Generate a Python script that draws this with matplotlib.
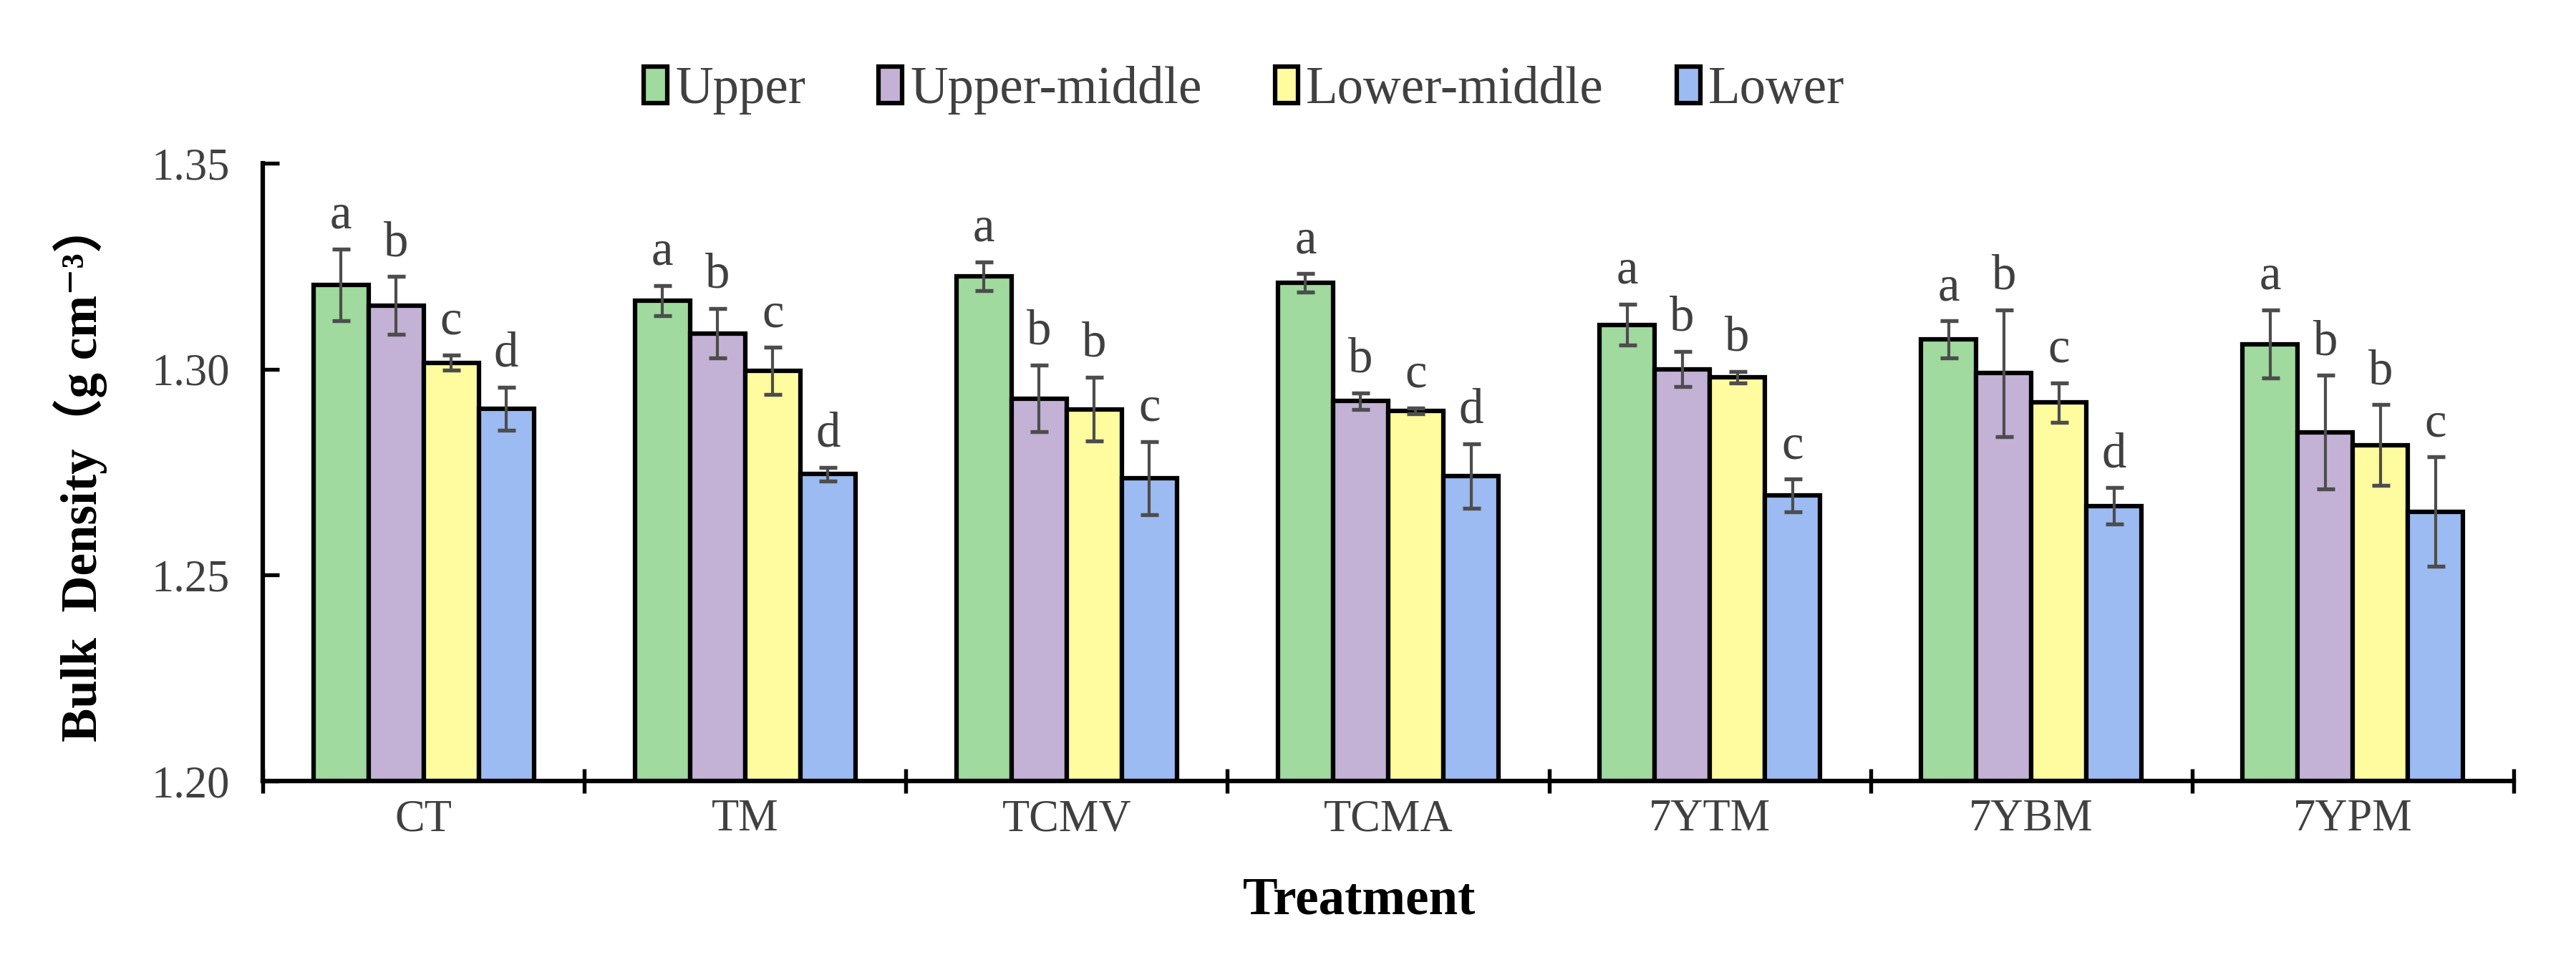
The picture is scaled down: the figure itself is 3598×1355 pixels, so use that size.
import matplotlib
matplotlib.use("Agg")
import matplotlib.pyplot as plt
import numpy as np

treatments = ["CT", "TM", "TCMV", "TCMA", "7YTM", "7YBM", "7YPM"]
layers = ["Upper", "Upper-middle", "Lower-middle", "Lower"]
colors = ["#A0DA9E", "#C3B2D6", "#FFFB9F", "#9CBBF2"]

upper = [1.3205, 1.3166, 1.3226, 1.3210, 1.3108, 1.3072, 1.3061]
upper_err = [0.0087, 0.0037, 0.0035, 0.0022, 0.0050, 0.0045, 0.0083]
upper_mid = [1.3155, 1.3087, 1.2929, 1.2923, 1.3000, 1.2990, 1.2847]
upper_mid_err = [0.0070, 0.0060, 0.0081, 0.0020, 0.0043, 0.0154, 0.0138]
lower_mid = [1.3016, 1.2996, 1.2903, 1.2899, 1.2980, 1.2919, 1.2816]
lower_mid_err = [0.0019, 0.0057, 0.0078, 0.0007, 0.0014, 0.0048, 0.0098]
lower = [1.2904, 1.2745, 1.2735, 1.2741, 1.2693, 1.2668, 1.2654]
lower_err = [0.0052, 0.0017, 0.0089, 0.0078, 0.0040, 0.0044, 0.0133]

letters_upper = ["a", "a", "a", "a", "a", "a", "a"]
letters_upper_mid = ["b", "b", "b", "b", "b", "b", "b"]
letters_lower_mid = ["c", "c", "b", "c", "b", "c", "b"]
letters_lower = ["d", "d", "c", "d", "c", "d", "c"]

means = [upper, upper_mid, lower_mid, lower]
errs = [upper_err, upper_mid_err, lower_mid_err, lower_err]
letters = [letters_upper, letters_upper_mid, letters_lower_mid, letters_lower]

plt.rcParams['font.family'] = ['Liberation Serif', 'Noto Sans CJK SC', 'DejaVu Serif']

fig = plt.figure(figsize=(3598 / 300, 1355 / 300), dpi=300)
ax = fig.add_axes([0.102, 0.1948, 0.8738, 0.6369])

x = np.arange(len(treatments))
w = 0.1715
for k in range(4):
    pos = x + (k - 1.5) * w
    ax.bar(pos, np.array(means[k]) - 1.2, w, bottom=1.2, color=colors[k],
           edgecolor="black", linewidth=1.5, label=layers[k], zorder=2)
    ax.errorbar(pos, means[k], yerr=errs[k], fmt="none", ecolor="#4d4d4d",
                elinewidth=1.0, capsize=3, capthick=1.3, zorder=3)
    for i in range(len(treatments)):
        ax.annotate(letters[k][i], (pos[i], means[k][i] + errs[k][i]),
                    xytext=(0, 7), textcoords="offset points", ha="center",
                    va="baseline", fontsize=16.5, color="#404040")

ax.set_xlim(-0.5, len(treatments) - 0.5)
ax.set_ylim(1.20, 1.35)
ax.set_yticks([1.20, 1.25, 1.30, 1.35])
ax.set_yticklabels(["1.20", "1.25", "1.30", "1.35"])

ax.set_xticks(np.arange(-0.5, len(treatments), 1.0))
ax.set_xticklabels([])
ax.set_xticks(x, minor=True)
ax.set_xticklabels(treatments, minor=True)
ax.tick_params(axis="x", which="major", direction="inout", length=8, width=1.3)
ax.tick_params(axis="x", which="minor", length=0, pad=6, labelsize=15, labelcolor="#404040")
ax.tick_params(axis="y", direction="in", length=5.5, width=1.3, pad=11,
               labelsize=15, labelcolor="#404040")

for s in ["top", "right"]:
    ax.spines[s].set_visible(False)
for s in ["left", "bottom"]:
    ax.spines[s].set_linewidth(1.5)

ax.set_ylabel("Bulk  Density（g cm⁻³）", fontsize=17, fontweight="bold")
ax.yaxis.set_label_coords(-0.069, 0.5)
ax.set_xlabel("Treatment", fontsize=17.5, fontweight="bold")
ax.xaxis.set_label_coords(0.487, -0.155)

fig.legend(loc="center", bbox_to_anchor=(0.483, 0.907), ncol=4, frameon=False,
           fontsize=17.5, handlelength=0.45, handleheight=0.7, handletextpad=0.15,
           columnspacing=1.4, labelcolor="#404040")

fig.savefig("out.png", dpi=300)
